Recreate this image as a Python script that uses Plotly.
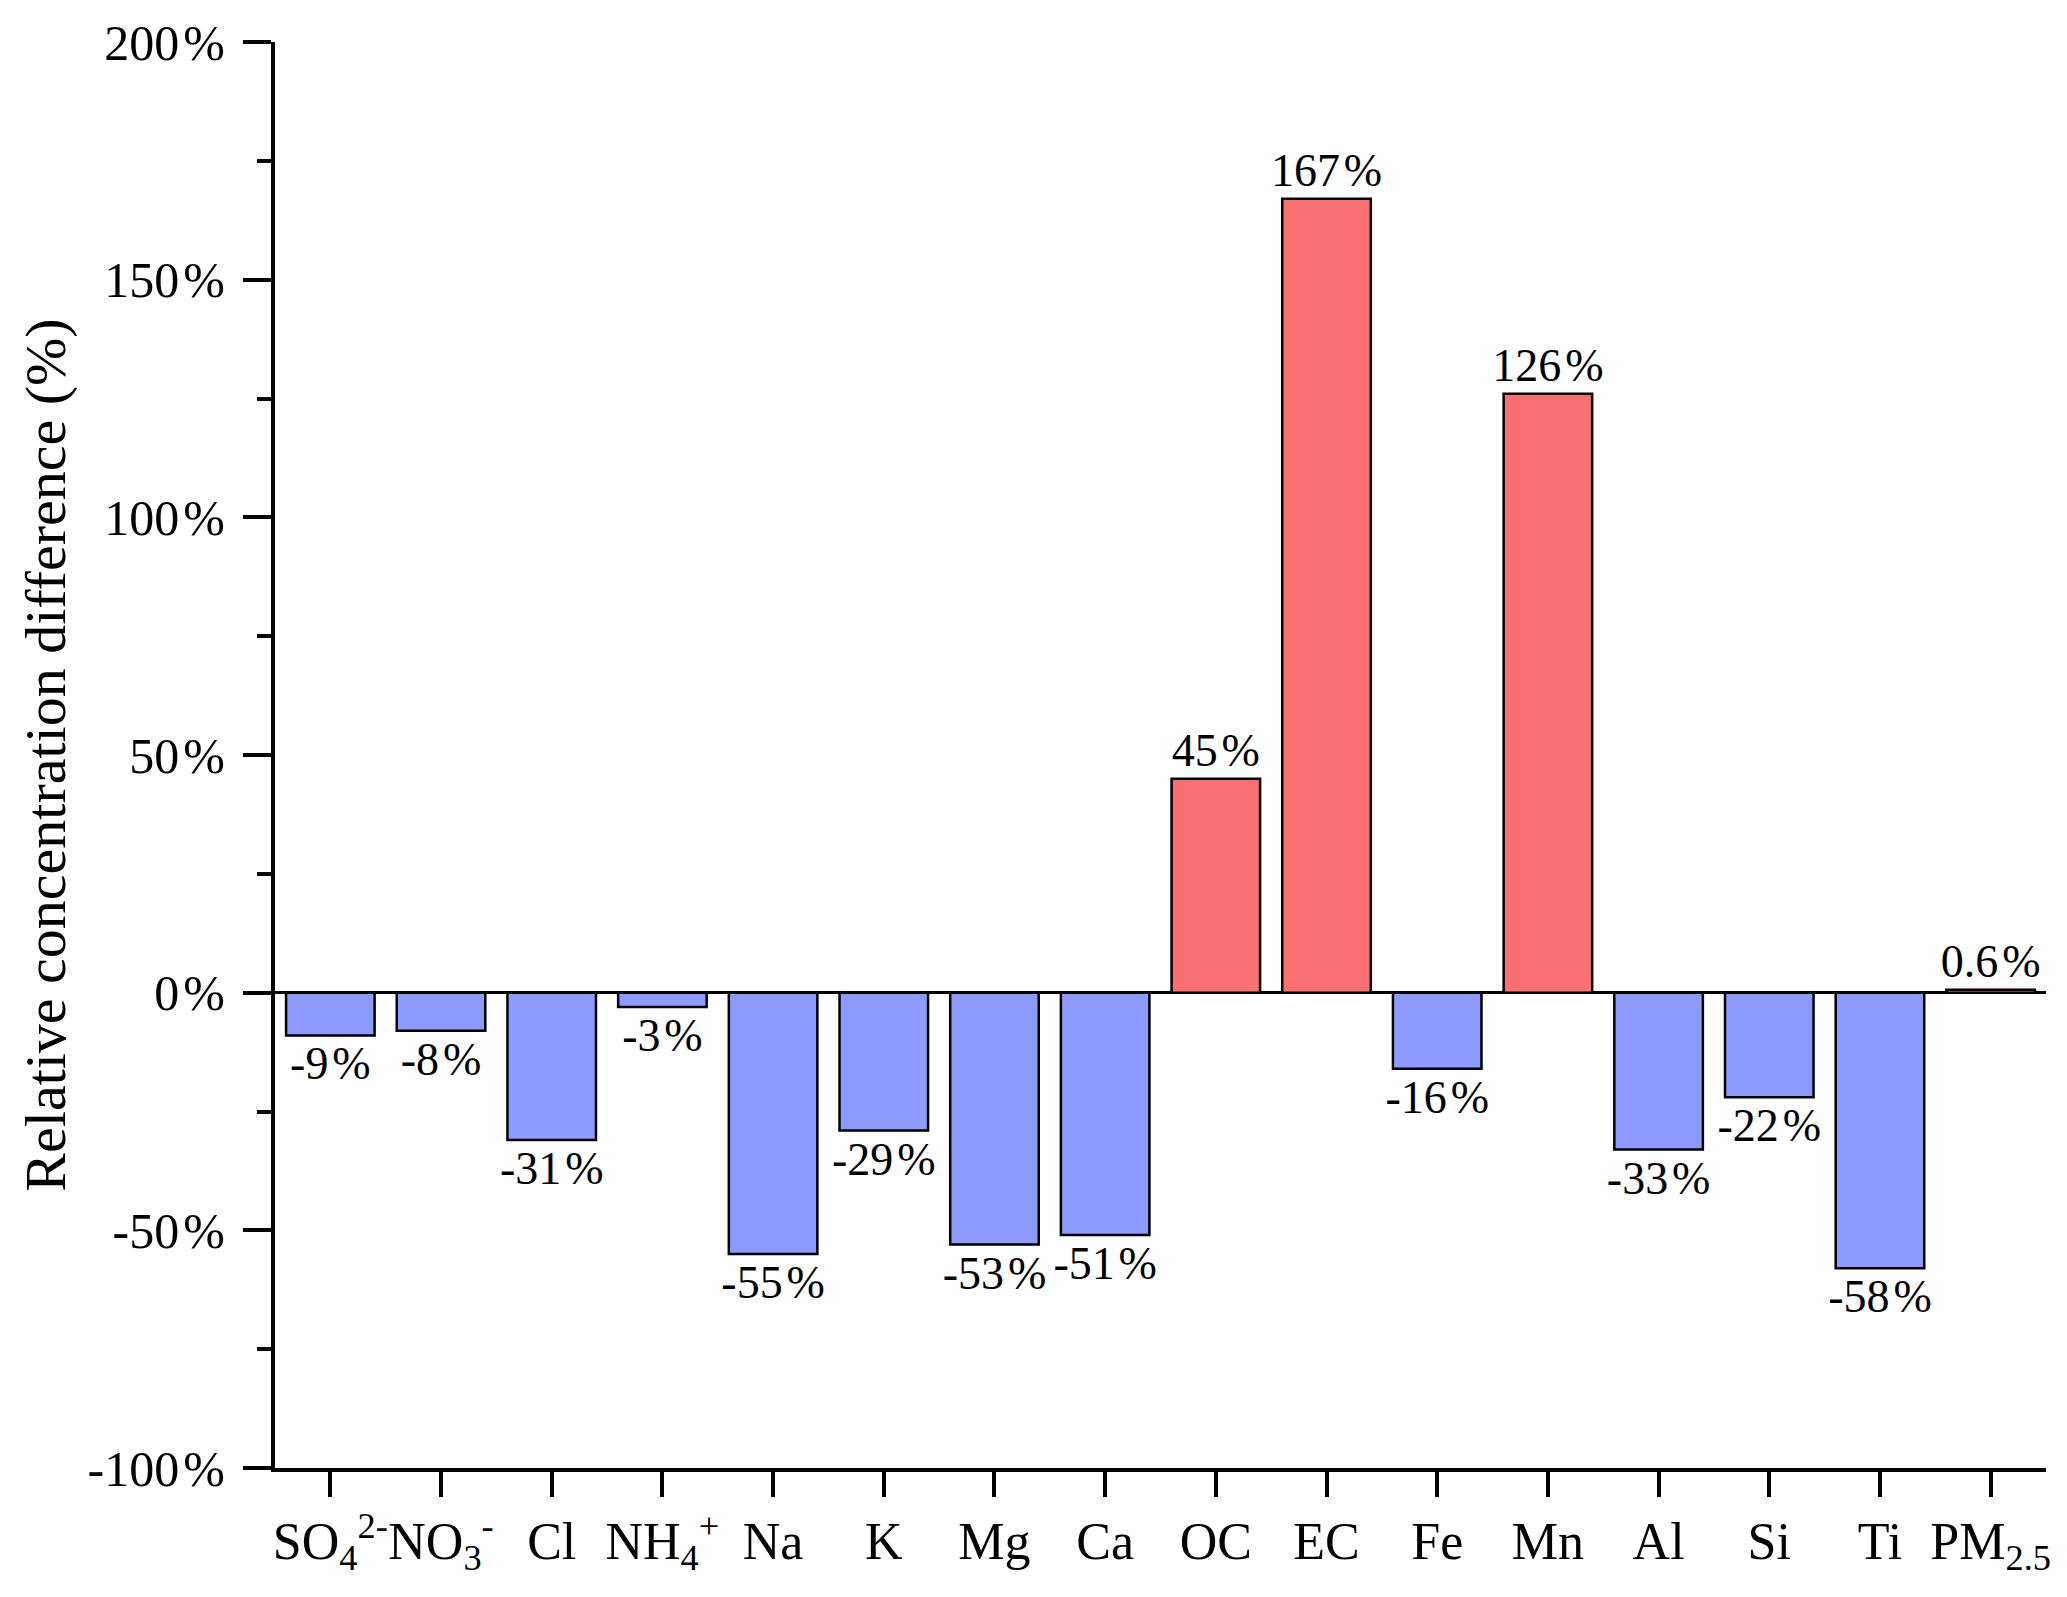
import plotly.graph_objects as go

categories = ["SO<sub>4</sub><sup>2-</sup>", "NO<sub>3</sub><sup>-</sup>", "Cl", "NH<sub>4</sub><sup>+</sup>",
              "Na", "K", "Mg", "Ca", "OC", "EC", "Fe", "Mn", "Al", "Si", "Ti", "PM<sub>2.5</sub>"]
values = [-9, -8, -31, -3, -55, -29, -53, -51, 45, 167, -16, 126, -33, -22, -58, 0.6]
y_ticks = [-100, -50, 0, 50, 100, 150, 200]
y_ticktext = ["-100\u200a%", "-50\u200a%", "0\u200a%", "50\u200a%", "100\u200a%", "150\u200a%", "200\u200a%"]

POS = "#FA7070"
NEG = "#8E9BFE"
FONT = "Liberation Serif"

x = list(range(len(categories)))
colors = [POS if v > 0 else NEG for v in values]
labels = [f"{v:g}\u200a%" for v in values]

fig = go.Figure()
fig.add_trace(go.Bar(
    x=x, y=values, width=0.8,
    marker=dict(color=colors, line=dict(color="black", width=2.5)),
    text=labels, textposition="outside", cliponaxis=False,
    constraintext="none",
    textfont=dict(family=FONT, size=46, color="black"),
))

fig.update_layout(
    width=2067, height=1597,
    margin=dict(l=267, r=29, t=34, b=137, autoexpand=False),
    paper_bgcolor="white", plot_bgcolor="white",
    showlegend=False,
    font=dict(family=FONT, color="black"),
)
fig.update_xaxes(
    range=[-0.5, len(categories) - 0.5],
    tickmode="array", tickvals=x, ticktext=categories, tickangle=0,
    automargin=False,
    ticks="outside", ticklen=25, tickwidth=3.5, tickcolor="black",
    showline=True, linecolor="black", linewidth=4,
    showgrid=False, zeroline=False,
    tickfont=dict(family=FONT, size=52, color="black"),
)
fig.update_yaxes(
    range=[-100, 200], automargin=False,
    tickmode="array", tickvals=y_ticks, ticktext=y_ticktext,
    ticks="outside", ticklen=28, tickwidth=3.5, tickcolor="black",
    ticklabelstandoff=8,
    minor=dict(dtick=25, ticks="outside", ticklen=14, tickwidth=3.5, tickcolor="black", showgrid=False),
    showline=True, linecolor="black", linewidth=4,
    showgrid=False, zeroline=True, zerolinecolor="black", zerolinewidth=3,
    tickfont=dict(family=FONT, size=50, color="black"),
    title=dict(text="Relative concentration difference (%)", font=dict(family=FONT, size=58, color="black"), standoff=4),
)

fig.write_html("out.html")
